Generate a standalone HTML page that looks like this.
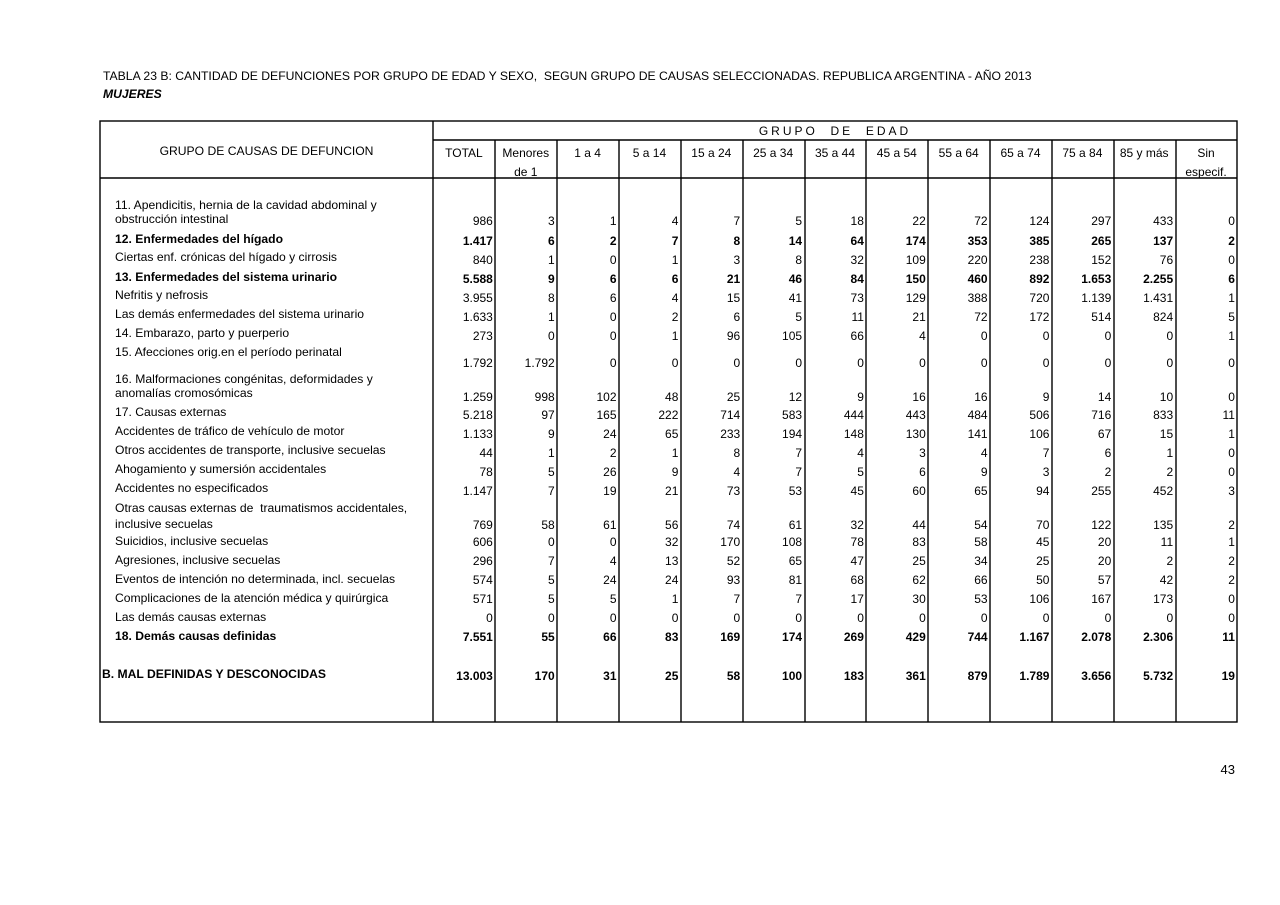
<!DOCTYPE html>
<html><head><meta charset="utf-8"><style>
body{margin:0;background:#fff;width:1280px;height:905px;position:relative;overflow:hidden;font-family:"Liberation Sans",sans-serif;color:#000}
.t{position:absolute;font-size:12.15px;line-height:14px;white-space:nowrap}
.r{position:absolute;left:433px;height:14px;line-height:14px;font-size:12px;display:flex}
.r i{font-style:normal;width:61.85px;text-align:right;padding-right:2px;box-sizing:border-box}
.b{font-weight:bold}
.h{position:absolute;top:144px;left:433px;display:flex;font-size:12px;line-height:19px}
.h i{font-style:normal;width:61.85px;text-align:center}
svg{position:absolute;left:0;top:0}
</style></head><body>
<svg width="1280" height="905">
<g stroke="#000" stroke-width="1.4" fill="none">
<rect x="100" y="121" width="1137" height="601"/>
<line x1="100" y1="178" x2="1237" y2="178"/>
<line x1="433" y1="140" x2="1237" y2="140"/>
<line x1="433" y1="121" x2="433" y2="722"/>
<line x1="495" y1="140" x2="495" y2="722"/><line x1="557" y1="140" x2="557" y2="722"/><line x1="619" y1="140" x2="619" y2="722"/><line x1="681" y1="140" x2="681" y2="722"/><line x1="743" y1="140" x2="743" y2="722"/><line x1="805" y1="140" x2="805" y2="722"/><line x1="866" y1="140" x2="866" y2="722"/><line x1="928" y1="140" x2="928" y2="722"/><line x1="990" y1="140" x2="990" y2="722"/><line x1="1052" y1="140" x2="1052" y2="722"/><line x1="1114" y1="140" x2="1114" y2="722"/><line x1="1176" y1="140" x2="1176" y2="722"/>
</g></svg>
<div class="t" style="left:103px;top:69px;font-size:12.2px">TABLA 23 B: CANTIDAD DE DEFUNCIONES POR GRUPO DE EDAD Y SEXO,&nbsp; SEGUN GRUPO DE CAUSAS SELECCIONADAS. REPUBLICA ARGENTINA - AÑO 2013</div>
<div class="t b" style="left:103px;top:87px;font-style:italic">MUJERES</div>
<div class="t" style="left:433px;width:804px;text-align:center;top:124px;letter-spacing:3px;font-size:12px">GRUPO&nbsp; DE&nbsp; EDAD</div>
<div class="t" style="left:100px;width:333px;text-align:center;top:144px">GRUPO DE CAUSAS DE DEFUNCION</div>
<div class="h"><i>TOTAL</i><i>Menores<br>de 1</i><i>1 a 4</i><i>5 a 14</i><i>15 a 24</i><i>25 a 34</i><i>35 a 44</i><i>45 a 54</i><i>55 a 64</i><i>65 a 74</i><i>75 a 84</i><i>85 y más</i><i>Sin<br>especif.</i></div>

<div class="t" style="left:115px;top:198px">11. Apendicitis, hernia de la cavidad abdominal y<br>obstrucción intestinal</div>
<div class="t b" style="left:115px;top:232px">12. Enfermedades del hígado</div>
<div class="t" style="left:115px;top:250px">Ciertas enf. crónicas del hígado y cirrosis</div>
<div class="t b" style="left:115px;top:270px">13. Enfermedades del sistema urinario</div>
<div class="t" style="left:115px;top:288px">Nefritis y nefrosis</div>
<div class="t" style="left:115px;top:307px">Las demás enfermedades del sistema urinario</div>
<div class="t" style="left:115px;top:326px">14. Embarazo, parto y puerperio</div>
<div class="t" style="left:115px;top:345px">15. Afecciones orig.en el período perinatal</div>
<div class="t" style="left:115px;top:372px">16. Malformaciones congénitas, deformidades y<br>anomalías cromosómicas</div>
<div class="t" style="left:115px;top:405px">17. Causas externas</div>
<div class="t" style="left:115px;top:424px">Accidentes de tráfico de vehículo de motor</div>
<div class="t" style="left:115px;top:443px">Otros accidentes de transporte, inclusive secuelas</div>
<div class="t" style="left:115px;top:462px">Ahogamiento y sumersión accidentales</div>
<div class="t" style="left:115px;top:481px">Accidentes no especificados</div>
<div class="t" style="left:115px;top:500px;line-height:16px">Otras causas externas de&nbsp; traumatismos accidentales,<br>inclusive secuelas</div>
<div class="t" style="left:115px;top:534px">Suicidios, inclusive secuelas</div>
<div class="t" style="left:115px;top:553px">Agresiones, inclusive secuelas</div>
<div class="t" style="left:115px;top:572px">Eventos de intención no determinada, incl. secuelas</div>
<div class="t" style="left:115px;top:591px">Complicaciones de la atención médica y quirúrgica</div>
<div class="t" style="left:115px;top:610px">Las demás causas externas</div>
<div class="t b" style="left:115px;top:629px">18. Demás causas definidas</div>
<div class="t b" style="left:102px;top:667px">B. MAL DEFINIDAS Y DESCONOCIDAS</div>

<div class="r" style="top:214px"><i>986</i><i>3</i><i>1</i><i>4</i><i>7</i><i>5</i><i>18</i><i>22</i><i>72</i><i>124</i><i>297</i><i>433</i><i>0</i></div>
<div class="r b" style="top:234px"><i>1.417</i><i>6</i><i>2</i><i>7</i><i>8</i><i>14</i><i>64</i><i>174</i><i>353</i><i>385</i><i>265</i><i>137</i><i>2</i></div>
<div class="r" style="top:253px"><i>840</i><i>1</i><i>0</i><i>1</i><i>3</i><i>8</i><i>32</i><i>109</i><i>220</i><i>238</i><i>152</i><i>76</i><i>0</i></div>
<div class="r b" style="top:272px"><i>5.588</i><i>9</i><i>6</i><i>6</i><i>21</i><i>46</i><i>84</i><i>150</i><i>460</i><i>892</i><i>1.653</i><i>2.255</i><i>6</i></div>
<div class="r" style="top:291px"><i>3.955</i><i>8</i><i>6</i><i>4</i><i>15</i><i>41</i><i>73</i><i>129</i><i>388</i><i>720</i><i>1.139</i><i>1.431</i><i>1</i></div>
<div class="r" style="top:310px"><i>1.633</i><i>1</i><i>0</i><i>2</i><i>6</i><i>5</i><i>11</i><i>21</i><i>72</i><i>172</i><i>514</i><i>824</i><i>5</i></div>
<div class="r" style="top:329px"><i>273</i><i>0</i><i>0</i><i>1</i><i>96</i><i>105</i><i>66</i><i>4</i><i>0</i><i>0</i><i>0</i><i>0</i><i>1</i></div>
<div class="r" style="top:356px"><i>1.792</i><i>1.792</i><i>0</i><i>0</i><i>0</i><i>0</i><i>0</i><i>0</i><i>0</i><i>0</i><i>0</i><i>0</i><i>0</i></div>
<div class="r" style="top:390px"><i>1.259</i><i>998</i><i>102</i><i>48</i><i>25</i><i>12</i><i>9</i><i>16</i><i>16</i><i>9</i><i>14</i><i>10</i><i>0</i></div>
<div class="r" style="top:408px"><i>5.218</i><i>97</i><i>165</i><i>222</i><i>714</i><i>583</i><i>444</i><i>443</i><i>484</i><i>506</i><i>716</i><i>833</i><i>11</i></div>
<div class="r" style="top:427px"><i>1.133</i><i>9</i><i>24</i><i>65</i><i>233</i><i>194</i><i>148</i><i>130</i><i>141</i><i>106</i><i>67</i><i>15</i><i>1</i></div>
<div class="r" style="top:446px"><i>44</i><i>1</i><i>2</i><i>1</i><i>8</i><i>7</i><i>4</i><i>3</i><i>4</i><i>7</i><i>6</i><i>1</i><i>0</i></div>
<div class="r" style="top:465px"><i>78</i><i>5</i><i>26</i><i>9</i><i>4</i><i>7</i><i>5</i><i>6</i><i>9</i><i>3</i><i>2</i><i>2</i><i>0</i></div>
<div class="r" style="top:484px"><i>1.147</i><i>7</i><i>19</i><i>21</i><i>73</i><i>53</i><i>45</i><i>60</i><i>65</i><i>94</i><i>255</i><i>452</i><i>3</i></div>
<div class="r" style="top:518px"><i>769</i><i>58</i><i>61</i><i>56</i><i>74</i><i>61</i><i>32</i><i>44</i><i>54</i><i>70</i><i>122</i><i>135</i><i>2</i></div>
<div class="r" style="top:535px"><i>606</i><i>0</i><i>0</i><i>32</i><i>170</i><i>108</i><i>78</i><i>83</i><i>58</i><i>45</i><i>20</i><i>11</i><i>1</i></div>
<div class="r" style="top:554px"><i>296</i><i>7</i><i>4</i><i>13</i><i>52</i><i>65</i><i>47</i><i>25</i><i>34</i><i>25</i><i>20</i><i>2</i><i>2</i></div>
<div class="r" style="top:573px"><i>574</i><i>5</i><i>24</i><i>24</i><i>93</i><i>81</i><i>68</i><i>62</i><i>66</i><i>50</i><i>57</i><i>42</i><i>2</i></div>
<div class="r" style="top:592px"><i>571</i><i>5</i><i>5</i><i>1</i><i>7</i><i>7</i><i>17</i><i>30</i><i>53</i><i>106</i><i>167</i><i>173</i><i>0</i></div>
<div class="r" style="top:611px"><i>0</i><i>0</i><i>0</i><i>0</i><i>0</i><i>0</i><i>0</i><i>0</i><i>0</i><i>0</i><i>0</i><i>0</i><i>0</i></div>
<div class="r b" style="top:630px"><i>7.551</i><i>55</i><i>66</i><i>83</i><i>169</i><i>174</i><i>269</i><i>429</i><i>744</i><i>1.167</i><i>2.078</i><i>2.306</i><i>11</i></div>
<div class="r b" style="top:669px"><i>13.003</i><i>170</i><i>31</i><i>25</i><i>58</i><i>100</i><i>183</i><i>361</i><i>879</i><i>1.789</i><i>3.656</i><i>5.732</i><i>19</i></div>

<div class="t" style="left:1200px;width:35px;text-align:right;top:763px;font-size:13px">43</div>
</body></html>
